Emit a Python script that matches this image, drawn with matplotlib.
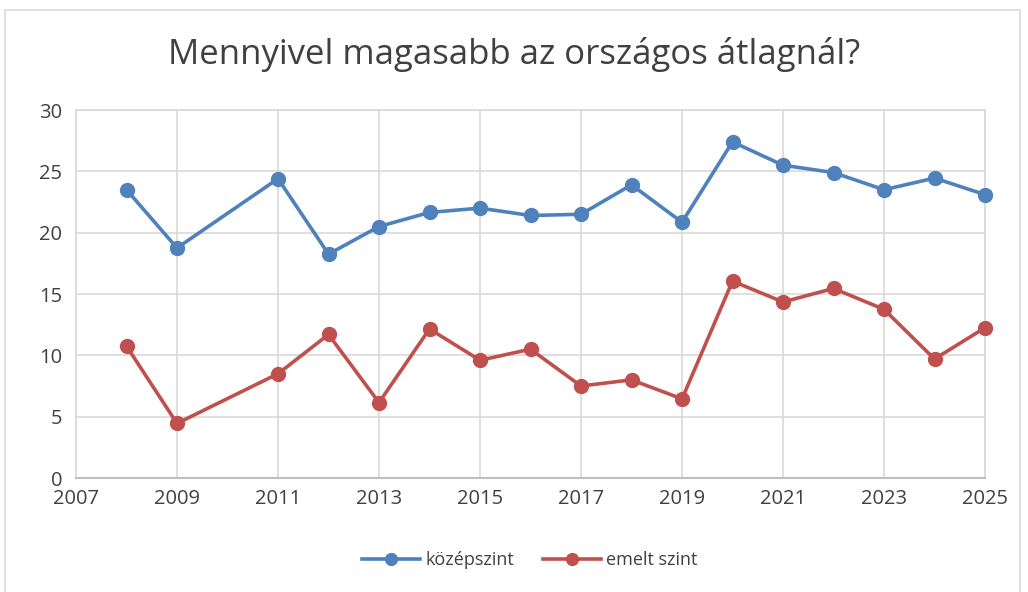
import matplotlib
matplotlib.use("Agg")
import matplotlib.pyplot as plt
from matplotlib.patches import Rectangle

years_kozep = [2008, 2009, 2011, 2012, 2013, 2014, 2015, 2016, 2017, 2018, 2019, 2020, 2021, 2022, 2023, 2024, 2025]
kozepszint = [23.5, 18.75, 24.4, 18.25, 20.5, 21.65, 22.0, 21.4, 21.5, 23.9, 20.85, 27.4, 25.5, 24.9, 23.5, 24.45, 23.1]
years_emelt = [2008, 2009, 2011, 2012, 2013, 2014, 2015, 2016, 2017, 2018, 2019, 2020, 2021, 2022, 2023, 2024, 2025]
emelt = [10.75, 4.45, 8.5, 11.7, 6.15, 12.15, 9.6, 10.5, 7.5, 8.0, 6.45, 16.05, 14.35, 15.45, 13.75, 9.7, 12.25]
xticks = list(range(2007, 2026, 2))
yticks = [0, 5, 10, 15, 20, 25, 30]
title = "Mennyivel magasabb az országos átlagnál?"
labels = ["középszint", "emelt szint"]

plt.rcParams['font.family'] = ['Open Sans', 'DejaVu Sans']
W, H = 1028, 592
fig = plt.figure(figsize=(W/100, H/100), dpi=100)
fig.patches.append(Rectangle((5/W, -0.01), (1020-5)/W, 1.01-10/H, transform=fig.transFigure,
                             fill=False, edgecolor='#d9d9d9', linewidth=1.2))
ax = fig.add_axes([76/W, 1-478/H, (985-76)/W, (478-110)/H])

blue = '#4F81BD'
red = '#C0504D'
ax.plot(years_kozep, kozepszint, color=blue, lw=2.6, marker='o', ms=10, label=labels[0],
        solid_joinstyle='round', clip_on=False, zorder=3)
ax.plot(years_emelt, emelt, color=red, lw=2.6, marker='o', ms=10, label=labels[1],
        solid_joinstyle='round', clip_on=False, zorder=3)

ax.set_xlim(2007, 2025)
ax.set_ylim(0, 30)
ax.set_xticks(xticks)
ax.set_yticks(yticks)
ax.grid(True, color='#d9d9d9', lw=1.2)
ax.set_axisbelow(True)
for s in ['top', 'right', 'left']:
    ax.spines[s].set_color('#d9d9d9')
    ax.spines[s].set_linewidth(1.2)
ax.spines['bottom'].set_color('#bfbfbf')
ax.spines['bottom'].set_linewidth(1.5)
ax.tick_params(length=0, labelsize=14.5, labelcolor='#404040', pad=8)
ax.tick_params(axis='y', pad=10)

fig.text(0.5, 1-55/H, title, ha='center', va='center', fontsize=25, color='#404040')

leg = fig.legend(loc='center', bbox_to_anchor=(530/W, 1-560/H), ncol=2, frameon=False,
                 fontsize=13, handlelength=3.2, handletextpad=0.3, columnspacing=1.6, markerscale=0.85)
for t in leg.get_texts():
    t.set_color('#404040')

fig.savefig('out.png', dpi=100)
